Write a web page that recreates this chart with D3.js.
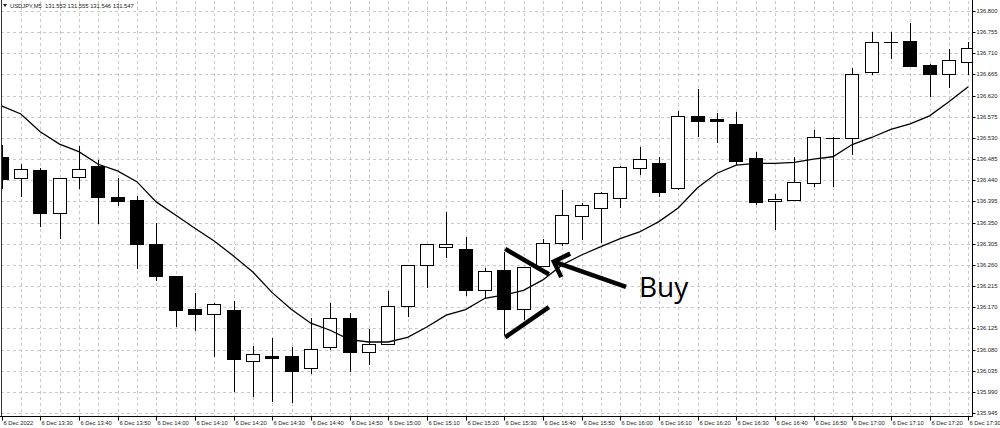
<!DOCTYPE html>
<html><head><meta charset="utf-8">
<script src="https://cdn.jsdelivr.net/npm/d3@7"></script>
<style>html,body{margin:0;padding:0;background:#fff;}svg{display:block;}</style>
</head><body>
<svg id="chart" width="1000" height="428"></svg>
<script>
// ---- data (USDJPY M5) ----
const times = ["13:20","13:25","13:30","13:35","13:40","13:45","13:50","13:55","14:00","14:05","14:10","14:15","14:20","14:25","14:30","14:35","14:40","14:45","14:50","14:55","15:00","15:05","15:10","15:15","15:20","15:25","15:30","15:35","15:40","15:45","15:50","15:55","16:00","16:05","16:10","16:15","16:20","16:25","16:30","16:35","16:40","16:45","16:50","16:55","17:00","17:05","17:10","17:15","17:20","17:25","17:30"];
const open  = [136.490,136.445,136.462,136.371,136.446,136.470,136.404,136.398,136.304,136.236,136.167,136.155,136.164,136.055,136.066,136.066,136.040,136.085,136.147,136.075,136.091,136.172,136.260,136.299,136.293,136.206,136.249,136.167,136.257,136.306,136.364,136.380,136.402,136.467,136.477,136.423,136.577,136.570,136.559,136.487,136.395,136.399,136.435,136.530,136.529,136.670,136.735,136.736,136.686,136.665,136.692];
const high  = [136.515,136.475,136.467,136.444,136.513,136.483,136.444,136.406,136.350,136.237,136.201,136.178,136.184,136.087,136.104,136.086,136.146,136.180,136.158,136.123,136.204,136.260,136.304,136.372,136.319,136.253,136.288,136.256,136.316,136.419,136.391,136.414,136.470,136.511,136.490,136.588,136.634,136.582,136.585,136.501,136.411,136.489,136.547,136.531,136.678,136.756,136.756,136.774,136.687,136.719,136.735];
const low   = [136.421,136.404,136.341,136.316,136.421,136.346,136.385,136.251,136.226,136.128,136.120,136.065,135.990,135.979,135.969,135.967,136.029,136.079,136.033,136.047,136.090,136.150,136.210,136.275,136.194,136.189,136.111,136.143,136.257,136.300,136.313,136.306,136.382,136.451,136.405,136.419,136.533,136.520,136.472,136.387,136.334,136.398,136.426,136.426,136.494,136.664,136.697,136.683,136.618,136.637,136.664];
const close = [136.442,136.463,136.370,136.444,136.465,136.404,136.396,136.304,136.237,136.164,136.155,136.176,136.060,136.070,136.063,136.034,136.082,136.146,136.075,136.091,136.172,136.260,136.304,136.304,136.206,136.247,136.167,136.256,136.306,136.366,136.387,136.413,136.468,136.485,136.416,136.577,136.565,136.566,136.482,136.394,136.400,136.436,136.533,136.529,136.667,136.735,136.735,136.684,136.665,136.696,136.721];
const ma    = [136.598,136.581,136.543,136.517,136.501,136.474,136.460,136.437,136.394,136.366,136.338,136.311,136.279,136.245,136.201,136.165,136.136,136.121,136.101,136.096,136.096,136.106,136.128,136.153,136.165,136.189,136.196,136.206,136.228,136.260,136.281,136.299,136.316,136.330,136.352,136.381,136.424,136.455,136.472,136.476,136.476,136.478,136.485,136.490,136.516,136.531,136.548,136.560,136.577,136.607,136.639];
const priceTicks = [136.800,136.755,136.710,136.665,136.620,136.575,136.530,136.485,136.440,136.395,136.350,136.305,136.260,136.215,136.170,136.125,136.080,136.035,135.990,135.945];
const timeTickIdx = [0,2,4,6,8,10,12,14,16,18,20,22,24,26,28,30,32,34,36,38,40,42,44,46,48,50];
const headerText = "USDJPY,M5  131.553 131.555 131.546 131.547";
const annotationText = "Buy";

// ---- layout ----
const svg = d3.select("#chart");
const L = 1, R = 972, T = 1, B = 416;
const x = d3.scaleLinear().domain([0, 50]).range([1.5, 968.2]);
const y = d3.scaleLinear().domain([135.945, 136.800]).range([413, 11]);
const FONT = "'Liberation Sans', Arial, sans-serif";
const snap = v => Math.round(v) + 0.5;

svg.append("rect").attr("width",1000).attr("height",428).attr("fill","#fff");
svg.append("defs").append("clipPath").attr("id","plot")
  .append("rect").attr("x",L).attr("y",T).attr("width",R-L).attr("height",B-T);

// grid
const grid = svg.append("g").attr("stroke","#c8c8c8").attr("stroke-dasharray","3,3").attr("stroke-width",1);
grid.selectAll("line.h").data(priceTicks).join("line")
  .attr("x1",L).attr("x2",R).attr("y1",d=>snap(y(d))).attr("y2",d=>snap(y(d)));
grid.selectAll("line.v").data(d3.range(1, times.length)).join("line")
  .attr("y1",T).attr("y2",B).attr("x1",d=>snap(x(d))).attr("x2",d=>snap(x(d)));

// candles
const plot = svg.append("g").attr("clip-path","url(#plot)");
const idx = d3.range(times.length);
const bw = 14;
plot.selectAll("line.wick").data(idx).join("line")
  .attr("x1",i=>snap(x(i))).attr("x2",i=>snap(x(i)))
  .attr("y1",i=>Math.round(y(high[i]))).attr("y2",i=>Math.round(y(low[i])))
  .attr("stroke","#000").attr("stroke-width",1);
plot.selectAll("rect.body").data(idx).join("rect")
  .attr("x",i=>Math.round(x(i)) - bw/2 + 0.5)
  .attr("y",i=>Math.round(y(Math.max(open[i],close[i]))) + 0.5)
  .attr("width",bw-1)
  .attr("height",i=>Math.max(0.01, Math.round(y(Math.min(open[i],close[i]))) - Math.round(y(Math.max(open[i],close[i])))))
  .attr("fill",i=>close[i] >= open[i] ? "#fff" : "#000")
  .attr("stroke","#000").attr("stroke-width",1);

// moving average
plot.append("path").datum(idx)
  .attr("d", d3.line().x(i=>x(i)).y(i=>y(ma[i])))
  .attr("fill","none").attr("stroke","#000").attr("stroke-width",1.3);

// frame
svg.append("line").attr("x1",1.5).attr("x2",1.5).attr("y1",0).attr("y2",B).attr("stroke","#333");

// right axis
const yAxis = d3.axisRight(y).tickValues(priceTicks).tickFormat(d3.format(".3f")).tickSize(3).tickSizeOuter(0);
const ya = svg.append("g").attr("transform",`translate(${R+0.5},0)`).call(yAxis);
ya.select(".domain").attr("d",`M0,0V${B+0.5}`).attr("stroke","#000");
ya.selectAll(".tick").attr("transform",d=>`translate(0,${snap(y(d))})`);
ya.selectAll(".tick line").attr("stroke","#000");
ya.selectAll(".tick text").attr("x",4).attr("font-family",FONT).attr("font-size","5.8px").attr("fill","#222");

// bottom axis
const xAxis = d3.axisBottom(x).tickValues(timeTickIdx).tickSize(4).tickSizeOuter(0)
  .tickFormat(i => i === 0 ? "6 Dec 2022" : "6 Dec " + times[i]);
const xa = svg.append("g").attr("transform",`translate(0,${B+0.5})`).call(xAxis);
xa.select(".domain").attr("d",`M0,0H${R+0.5}`).attr("stroke","#000");
xa.selectAll(".tick").attr("transform",d=>`translate(${snap(x(d))},0)`);
xa.selectAll(".tick line").attr("stroke","#000");
xa.selectAll(".tick text").attr("text-anchor","start").attr("x",1).attr("y",4).attr("dy","0.71em")
  .attr("font-family",FONT).attr("font-size","5.8px").attr("fill","#222");

// header
svg.append("path").attr("d","M3,4 L7,4 L5,7 Z").attr("fill","#222");
svg.append("text").attr("x",10).attr("y",8.3).attr("font-family",FONT).attr("font-size","5.8px")
  .attr("fill","#222").attr("xml:space","preserve").text(headerText);

// annotations (wedge + arrow + Buy)
const ann = svg.append("g").attr("stroke","#000").attr("stroke-width",4.5).attr("stroke-linecap","butt").attr("fill","none");
ann.append("line").attr("x1",x(26)+1).attr("y1",y(136.294)).attr("x2",x(28)+6).attr("y2",y(136.240));
ann.append("line").attr("x1",x(26)+1).attr("y1",y(136.106)).attr("x2",x(28)+6).attr("y2",y(136.170));
ann.append("line").attr("x1",x(28)+11).attr("y1",y(136.267)).attr("x2",626).attr("y2",y(136.213));
ann.append("polyline").attr("points",[[x(29)+8, y(136.284)],[x(28)+11, y(136.267)],[x(29)-1, y(136.234)]].map(p=>p.join(",")).join(" "));
svg.append("text").attr("x",639).attr("y",297).attr("font-family","'Open Sans', 'Liberation Sans', sans-serif")
  .attr("font-size","28px").attr("fill","#000").text(annotationText);
</script>
</body></html>
